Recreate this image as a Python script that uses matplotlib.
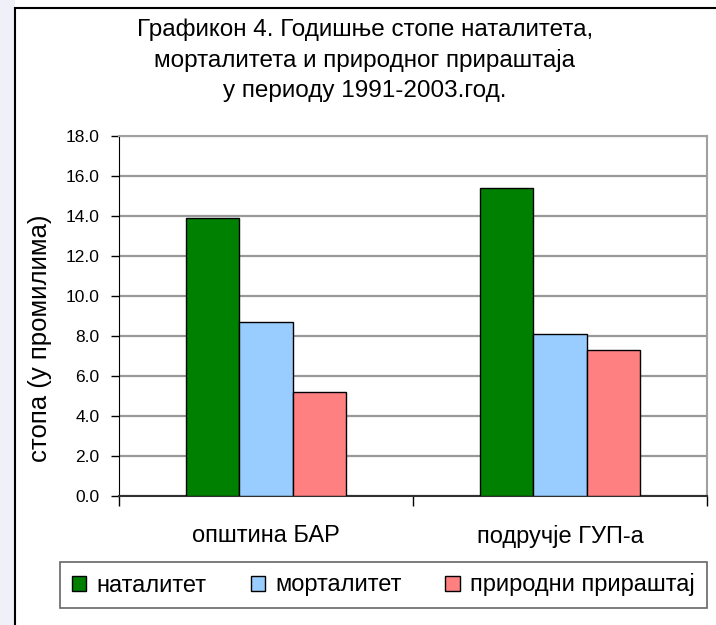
import numpy as np
import matplotlib.pyplot as plt
from matplotlib.patches import Rectangle

plt.rcParams["font.family"] = ["Liberation Sans", "DejaVu Sans"]

# подаци са графикона
kategorije = ["општина БАР", "подручје ГУП-а"]
serije = ["наталитет", "морталитет", "природни прираштај"]
natalitet = [13.9, 15.4]
mortalitet = [8.7, 8.1]
prirastaj = [5.2, 7.3]
yticks = [0, 2, 4, 6, 8, 10, 12, 14, 16, 18]
boje = ["#008000", "#99ccff", "#ff8080"]

W, H = 716, 625
fig = plt.figure(figsize=(W / 100, H / 100), dpi=100)
fig.patch.set_facecolor("white")

# плавичаста ивица лево и оквир графикона
fig.patches.append(Rectangle((0, 0), 15 / W, 1, transform=fig.transFigure,
                             facecolor="#eef2f8", edgecolor="none", zorder=0))
fig.patches.append(Rectangle((15 / W, -0.1), 1.2, 1.1 - 8 / H, transform=fig.transFigure,
                             facecolor="none", edgecolor="black", linewidth=1.5, zorder=1))

ax = fig.add_axes([119 / W, 1 - 496 / H, (707 - 119) / W, (496 - 136) / H])

x = np.arange(len(kategorije))
sirina = 0.182
for i, (vrednosti, boja, ime) in enumerate(zip([natalitet, mortalitet, prirastaj], boje, serije)):
    ax.bar(x + (i - 1) * sirina, vrednosti, sirina, color=boja, edgecolor="black",
           linewidth=1, label=ime, zorder=3)

ax.set_xlim(-0.5, 1.5)
ax.set_ylim(0, 18)
ax.set_yticks(yticks)
ax.set_yticklabels([f"{v:.1f}" for v in yticks], fontsize=12.5)
ax.tick_params(axis="y", direction="out", length=6, width=1, pad=8)
ax.yaxis.grid(True, color="#999999", linewidth=1.6, zorder=0)
ax.set_axisbelow(True)

ax.set_xticks(x)
ax.set_xticklabels(kategorije, fontsize=17)
ax.tick_params(axis="x", which="major", length=0, pad=21)
ax.set_xticks([-0.5, 0.5, 1.5], minor=True)
ax.tick_params(axis="x", which="minor", direction="out", length=7, width=1)

for s in ["top", "right"]:
    ax.spines[s].set_color("#a0a0a0")
    ax.spines[s].set_linewidth(1.5)
ax.spines["left"].set_color("black")
ax.spines["bottom"].set_color("#303030")
ax.spines["bottom"].set_linewidth(1.5)

fig.text(40 / W, 1 - 338 / H, "стопа (у промилима)", rotation=90,
         ha="center", va="center", fontsize=18.5)

fig.text(365 / W, 1 - 60 / H,
         "Графикон 4. Годишње стопе наталитета,\nморталитета и природног прираштаја\nу периоду 1991-2003.год.",
         ha="center", va="center", fontsize=17.5, linespacing=1.45)

leg = fig.legend(loc="center", bbox_to_anchor=((62 + 705) / 2 / W, 1 - 585 / H),
                 ncol=3, fontsize=17, frameon=True, fancybox=False,
                 handlelength=0.6, handleheight=0.6, handletextpad=0.45,
                 columnspacing=1.85, borderpad=0.5, borderaxespad=0)
leg.get_frame().set_edgecolor("#404040")
leg.get_frame().set_linewidth(1.2)

plt.savefig("out.png", dpi=100)
